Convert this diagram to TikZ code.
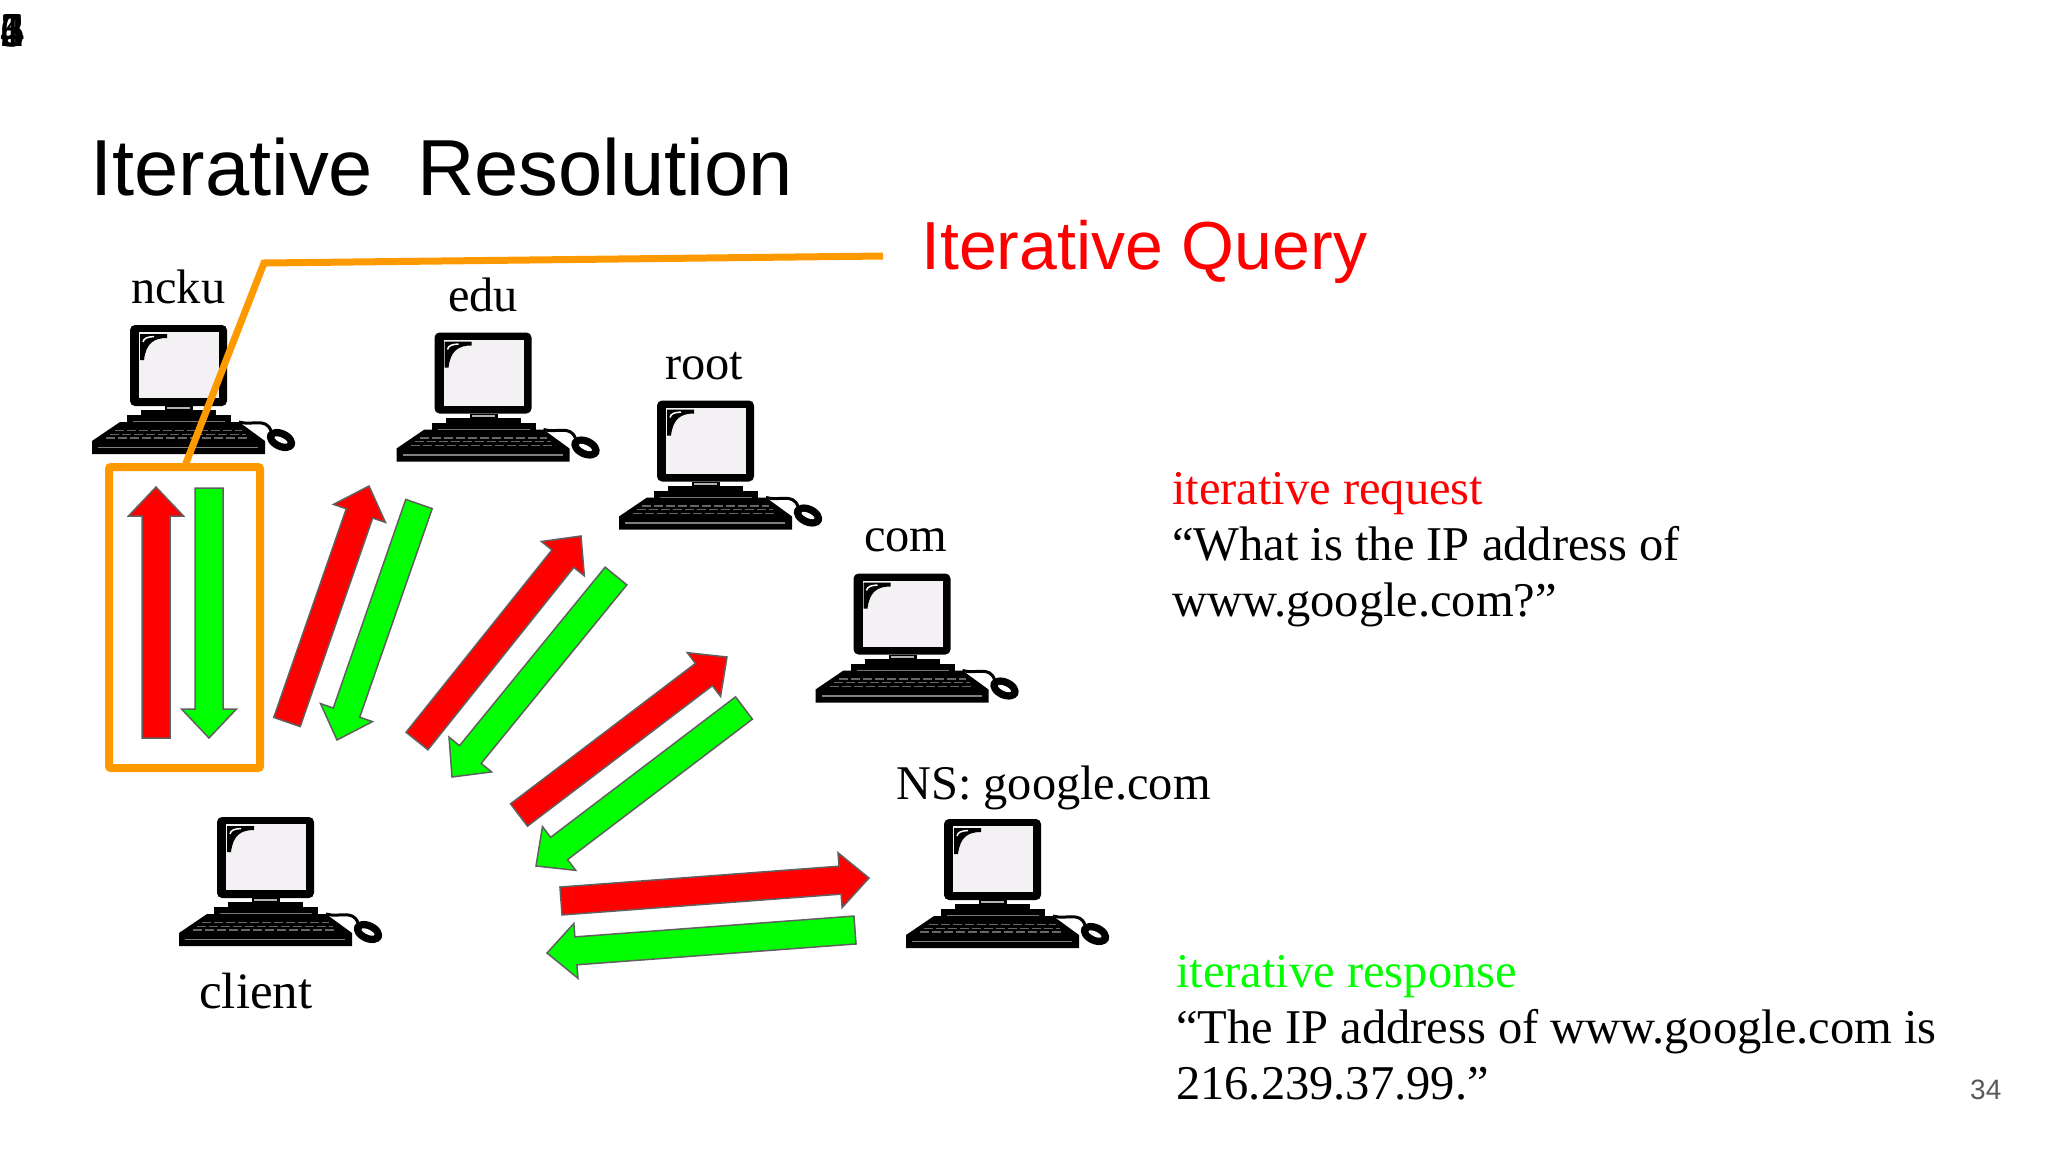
\documentclass[tikz,border=0pt]{standalone}
\usepackage{fontspec}
\setmainfont{Liberation Serif}
\newfontfamily\slidesans{Liberation Sans}
\usetikzlibrary{calc}

\definecolor{callout}{HTML}{FF9900}
\definecolor{reqred}{HTML}{FF0000}
\definecolor{respgreen}{HTML}{00FF00}
\definecolor{edgegray}{HTML}{606060}
\definecolor{screenfill}{HTML}{F3F1F3}

\tikzset{
  label/.style={inner sep=0, anchor=base west, font=\fontsize{48.4}{56}\selectfont},
  note/.style={inner sep=0, anchor=north west, align=left, font=\fontsize{48.5}{56}\selectfont},
  keyrow/.style={draw=black!60, line width=1.2, dash pattern=on 9 off 3},
  computer/.pic={
    \fill[black, rounded corners=5] (0,0) rectangle (97,81);
    \fill[screenfill] (9,7) rectangle (89,73);
    \fill[black] (10,9) -- (37,9) -- (37,13) .. controls (24,13) and (16,18) .. (14,35) -- (10,35) -- cycle;
    \draw[white, line width=1.5] (13,17) .. controls (14,13) and (17,12) .. (24,11.5);
    \fill[black] (35,81) rectangle (63,85);
    \fill[gray!60] (37,82) rectangle (60,84);
    \fill[black] (11,85) rectangle (86,91);
    \fill[black] (-3,90) rectangle (101,98);
    \fill[black] (-10,97) -- (-38,116) -- (-38,129) -- (135,129) -- (135,116) -- (109,97) -- cycle;
    \draw[black!55, line width=1] (3,96.5) -- (95,96.5);
    \draw[black!50, line width=1.5] (-32,122.5) -- (128,122.5);
    \draw[keyrow] (-15,105.5) -- (112,105.5);
    \draw[keyrow] (-20,109.3) -- (116,109.3);
    \draw[keyrow] (-24,113) -- (120,113);
    \draw[black, line width=3] (109,97) .. controls (122,101) and (136,92) .. (141,106);
    \fill[black] (151,115) ellipse [x radius=15, y radius=10, rotate=-25];
    \fill[white] (151,115) ellipse [x radius=7, y radius=2.5, rotate=-25];
  }
}

% tail, tip, colour
\newcommand{\blockarrow}[3]{
  \coordinate (neck) at ($(#2)!29pt!(#1)$);
  \draw[draw=edgegray, line width=1.5, fill=#3, line join=miter]
    ($(#1)!14pt!90:(#2)$) -- ($(neck)!14pt!90:(#2)$) -- ($(neck)!27.5pt!90:(#2)$) -- (#2)
    -- ($(neck)!27.5pt!-90:(#2)$) -- ($(neck)!14pt!-90:(#2)$) -- ($(#1)!14pt!-90:(#2)$) -- cycle;
}

\begin{document}
\begin{tikzpicture}[x=1pt, y=-1pt]
    \useasboundingbox (0,0) rectangle (2048,1152);

    % Nodes
    \foreach \n in {1,...,6}
        \node (page\n) [label] at (0,46) {\n};
    \node (title) [label, font=\slidesans\fontsize{79.5}{96}\selectfont] at (90,195) {Iterative\ \ Resolution};
    \node (query) [label, text=reqred, font=\slidesans\fontsize{68}{80}\selectfont] at (921,269) {Iterative Query};

    \pic (ncku) at (130,325) {computer};
    \pic (edu) at (434.5,332.5) {computer};
    \pic (root) at (657,400.5) {computer};
    \pic (com) at (853.5,573.5) {computer};
    \pic (google) at (944,819) {computer};
    \pic (client) at (217,817) {computer};

    \node (nckuname) [label] at (131,303.5) {ncku};
    \node (eduname) [label] at (448,311.5) {edu};
    \node (rootname) [label] at (665,379.5) {root};
    \node (comname) [label] at (864,551) {com};
    \node (googlename) [label] at (896,799) {NS: google.com};
    \node (clientname) [label, font=\fontsize{51}{56}\selectfont] at (199,1008) {client};

    \node (request) [note] at (1172,472.5) {\textcolor{reqred}{iterative request}\\“What is the IP address of\\www.google.com?”};
    \node (response) [note] at (1176,955.5) {\textcolor{respgreen}{iterative response}\\“The IP address of www.google.com is\\216.239.37.99.”};
    \node (pagenum) [label, text=black!65, font=\slidesans\fontsize{28}{32}\selectfont] at (1970,1099) {34};

    \node (focus) [draw=callout, line width=8, rounded corners=2, inner sep=0, outer sep=0,
        minimum width=151, minimum height=301] at (184.5,617.5) {};
    \coordinate (bend) at (264,263);
    \coordinate (callend) at (883,256);

    \coordinate (reqAtail) at (156,738);
    \coordinate (reqAtip) at (156,487);
    \coordinate (respAtail) at (209,488);
    \coordinate (respAtip) at (209,738);
    \coordinate (reqBtail) at (287,722);
    \coordinate (reqBtip) at (369,486);
    \coordinate (respBtail) at (419,504);
    \coordinate (respBtip) at (337,740);
    \coordinate (reqCtail) at (417,741);
    \coordinate (reqCtip) at (581,536);
    \coordinate (respCtail) at (616,576);
    \coordinate (respCtip) at (452,777);
    \coordinate (reqDtail) at (519,815);
    \coordinate (reqDtip) at (727,657);
    \coordinate (respDtail) at (744,708);
    \coordinate (respDtip) at (536,866);
    \coordinate (reqEtail) at (561,901);
    \coordinate (reqEtip) at (869,878);
    \coordinate (respEtail) at (855,930);
    \coordinate (respEtip) at (547,953);

    % Edges
    \draw[callout, line width=7, line join=miter] (focus.north) -- (bend) -- (callend);
    \foreach \a in {A,B,C,D,E} {
        \blockarrow{req\a tail}{req\a tip}{reqred}
        \blockarrow{resp\a tail}{resp\a tip}{respgreen}
    }
\end{tikzpicture}
\end{document}
